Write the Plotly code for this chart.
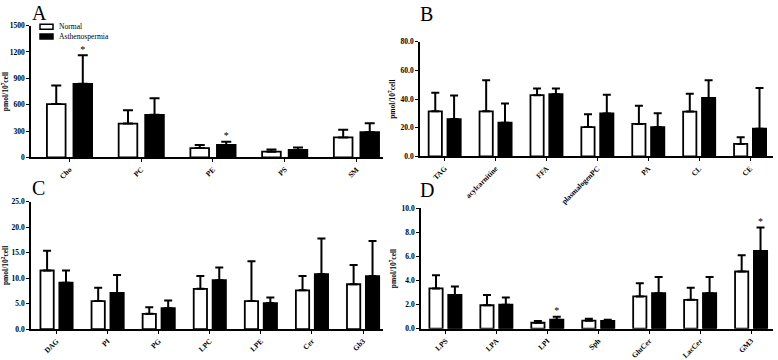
import plotly.graph_objects as go

# ---------------- data ----------------
A_cats = ["Cho", "PC", "PE", "PS", "SM"]
A_normal = [607, 386, 107, 66, 228]
A_normal_sd = [213, 151, 36, 26, 88]
A_asth = [838, 485, 143, 85, 287]
A_asth_sd = [324, 188, 37, 29, 103]
A_sig = [1, 0, 1, 0, 0]

B_cats = ["TAG", "acylcarnitine", "FFA", "plasmalogenPC", "PA", "CL", "CE"]
B_normal = [31.5, 31.5, 42.8, 20.5, 22.7, 31.3, 8.8]
B_normal_sd = [12.9, 21.7, 4.7, 9.0, 12.7, 12.4, 4.7]
B_asth = [26.1, 23.6, 43.5, 30.0, 20.5, 40.8, 19.4]
B_asth_sd = [16.5, 13.3, 4.0, 13.0, 9.7, 12.4, 28.3]
B_sig = [0, 0, 0, 0, 0, 0, 0]

C_cats = ["DAG", "PI", "PG", "LPC", "LPE", "Cer", "Gb3"]
C_normal = [11.5, 5.5, 3.0, 7.9, 5.5, 7.6, 8.8]
C_normal_sd = [3.9, 2.6, 1.3, 2.5, 7.8, 2.8, 3.8]
C_asth = [9.1, 7.1, 4.1, 9.6, 5.1, 10.8, 10.4]
C_asth_sd = [2.4, 3.5, 1.5, 2.5, 1.1, 7.0, 6.9]
C_sig = [0, 0, 0, 0, 0, 0, 0]

D_cats = ["LPS", "LPA", "LPI", "Sph", "GluCer", "LacCer", "GM3"]
D_normal = [3.35, 1.95, 0.5, 0.67, 2.68, 2.4, 4.75]
D_normal_sd = [1.1, 0.85, 0.15, 0.16, 1.1, 1.0, 1.35]
D_asth = [2.8, 2.0, 0.75, 0.65, 2.95, 2.95, 6.46]
D_asth_sd = [0.7, 0.6, 0.25, 0.1, 1.35, 1.35, 1.94]
D_sig = [0, 0, 1, 0, 0, 0, 1]

Y_TITLES = ["pmol/10<sup>7</sup>cell", "pmol/10<sup>7</sup>cell",
            "pmol/10<sup>2</sup>cell", "pmol/10<sup>7</sup>cell"]
PANEL_LABELS = ["A", "B", "C", "D"]

# ---------------- styling ----------------
W, H = 778, 360
FONT = "Liberation Serif"
BAR_W = 0.26
HALF = 0.185  # distance of each bar centre from the category centre
TICKFONT = dict(family=FONT, size=7.5, color="black", weight="bold")

panels = [
    dict(cats=A_cats, n=A_normal, nsd=A_normal_sd, a=A_asth, asd=A_asth_sd, sig=A_sig,
         xdom=[31, 383], ypx=[158.3, 22.3], xr=[-0.537, 4.37], yr=[0, 1500], dtick=300,
         fmt="d", cap=5, lab=(30, -4)),
    dict(cats=B_cats, n=B_normal, nsd=B_normal_sd, a=B_asth, asd=B_asth_sd, sig=B_sig,
         xdom=[420, 773], ypx=[157.3, 39], xr=[-0.485, 6.45], yr=[0, 80], dtick=20,
         fmt=".1f", cap=4, lab=(418, -3)),
    dict(cats=C_cats, n=C_normal, nsd=C_normal_sd, a=C_asth, asd=C_asth_sd, sig=C_sig,
         xdom=[31, 383], ypx=[335.3, 204], xr=[-0.5, 6.39], yr=[0, 25], dtick=5,
         fmt=".1f", cap=4, lab=(30, 176)),
    dict(cats=D_cats, n=D_normal, nsd=D_normal_sd, a=D_asth, asd=D_asth_sd, sig=D_sig,
         xdom=[421, 773], ypx=[335, 210.7], xr=[-0.48, 6.43], yr=[0, 10], dtick=2,
         fmt=".1f", cap=4, lab=(418, 178)),
]

fig = go.Figure()
annotations = []
shapes = []

for k, p in enumerate(panels):
    sfx = "" if k == 0 else str(k + 1)
    xs = list(range(len(p["cats"])))
    common = dict(xaxis="x" + sfx, yaxis="y" + sfx, width=BAR_W, showlegend=False)
    fig.add_trace(go.Bar(
        x=xs, y=p["n"], offset=-HALF - BAR_W / 2, name="Normal",
        marker=dict(color="white", line=dict(color="black", width=1.8)),
        error_y=dict(type="data", array=p["nsd"], arrayminus=[0] * len(xs), symmetric=False,
                     color="black", thickness=2, width=p["cap"]),
        **common))
    fig.add_trace(go.Bar(
        x=xs, y=p["a"], offset=HALF - BAR_W / 2, name="Asthenospermia",
        marker=dict(color="black", line=dict(color="black", width=1.8)),
        error_y=dict(type="data", array=p["asd"], arrayminus=[0] * len(xs), symmetric=False,
                     color="black", thickness=2, width=p["cap"]),
        **common))
    # significance asterisks
    sx = [x + HALF for x, s in zip(xs, p["sig"]) if s]
    sy = [v + e for v, e, s in zip(p["a"], p["asd"], p["sig"]) if s]
    if sx:
        fig.add_trace(go.Scatter(
            x=sx, y=sy, mode="text", text=["*"] * len(sx), textposition="top center",
            textfont=dict(family=FONT, size=10, color="black"),
            xaxis="x" + sfx, yaxis="y" + sfx, showlegend=False, cliponaxis=False))

    ax_x = dict(
        domain=[p["xdom"][0] / W, p["xdom"][1] / W], range=p["xr"],
        anchor="y" + sfx, tickmode="array", tickvals=xs, ticktext=p["cats"],
        tickangle=-45, showline=True, linecolor="black", linewidth=1.6,
        ticks="outside", ticklen=3, tickwidth=1.2, tickcolor="black",
        showgrid=False, zeroline=False, tickfont=TICKFONT, fixedrange=True)
    ax_y = dict(
        domain=[1 - p["ypx"][0] / H, 1 - p["ypx"][1] / H], range=p["yr"],
        anchor="x" + sfx, dtick=p["dtick"], tick0=0, tickformat=p["fmt"],
        showline=True, linecolor="black", linewidth=1.6,
        ticks="outside", ticklen=3, tickwidth=1.2, tickcolor="black",
        showgrid=False, zeroline=False, tickfont=TICKFONT,
        title=dict(text=Y_TITLES[k], standoff=4,
                   font=dict(family=FONT, size=7.5, color="black", weight="bold")),
        fixedrange=True)
    fig.layout["xaxis" + sfx] = ax_x
    fig.layout["yaxis" + sfx] = ax_y

    annotations.append(dict(
        text=PANEL_LABELS[k], x=p["lab"][0] / W, y=1 - p["lab"][1] / H,
        xref="paper", yref="paper", xanchor="left", yanchor="top", showarrow=False,
        font=dict(family=FONT, size=20, color="black")))

# manual legend in panel A
leg_items = [("Normal", "white", 21, 26), ("Asthenospermia", "black", 31, 36)]
for label, fill, y0, y1 in leg_items:
    shapes.append(dict(type="rect", xref="paper", yref="paper",
                       x0=40 / W, x1=53 / W, y0=1 - y1 / H, y1=1 - y0 / H,
                       fillcolor=fill, line=dict(color="black", width=1.5)))
    annotations.append(dict(text=label, x=57 / W, y=1 - (y0 + y1) / 2 / H,
                            xref="paper", yref="paper", xanchor="left", yanchor="middle",
                            showarrow=False,
                            font=dict(family=FONT, size=7.6, color="black")))

fig.update_layout(
    width=W, height=H, margin=dict(l=0, r=0, t=0, b=0),
    paper_bgcolor="white", plot_bgcolor="white", barmode="overlay",
    annotations=annotations, shapes=shapes, showlegend=False,
    font=dict(family=FONT, color="black"))

fig.write_html("out.html", config={"displayModeBar": False},
               post_script="document.body.style.margin='0';document.body.style.overflow='hidden';")
